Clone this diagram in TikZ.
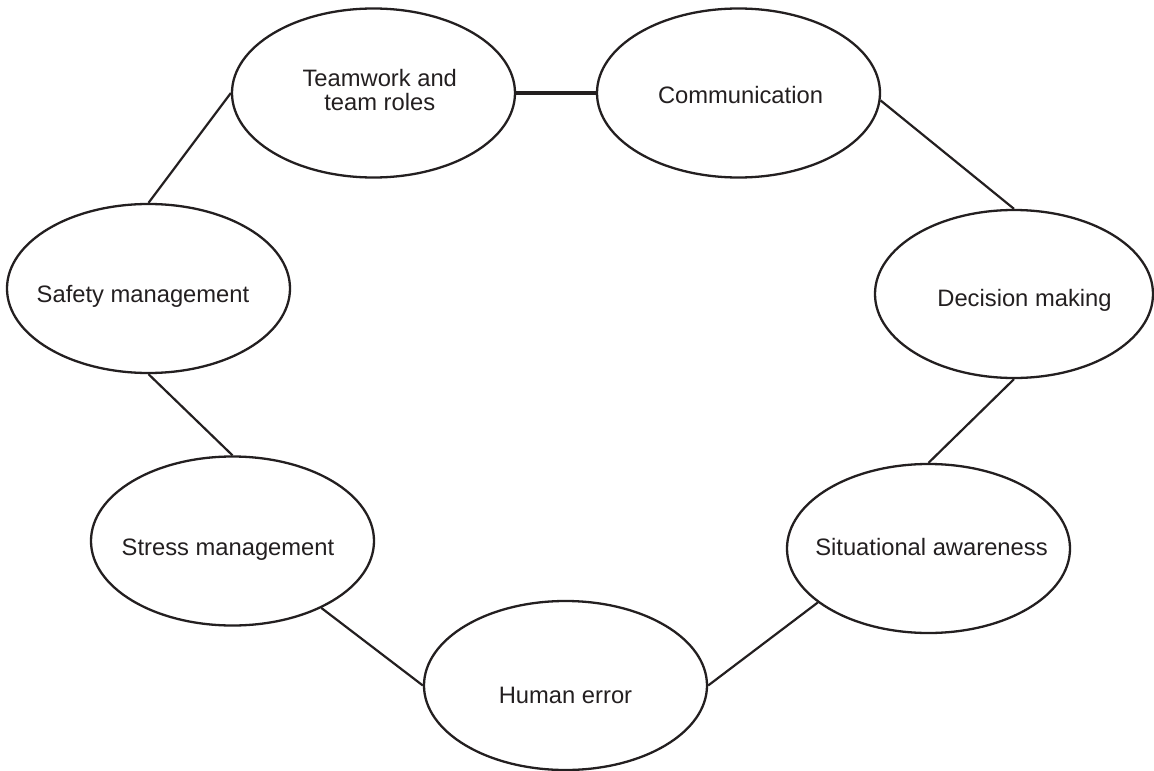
\documentclass[tikz,border=0pt]{standalone}
\usepackage{fontspec}
\setmainfont{Liberation Sans}
\usetikzlibrary{shapes.geometric}
\definecolor{ink}{HTML}{231F20}
\begin{document}
\begin{tikzpicture}[x=1bp,y=-1bp,
  topic/.style={ellipse,draw=ink,line width=2.3bp,minimum width=283bp,minimum height=169bp,inner sep=0pt},
  wide/.style={topic,minimum width=278bp,minimum height=168bp},
  caption/.style={text=ink,inner sep=0pt,font=\fontsize{23.75bp}{24bp}\selectfont},
  link/.style={draw=ink,line width=2.2bp},
  boldlink/.style={draw=ink,line width=4bp}]
\path[use as bounding box] (0,0) rectangle (1154,771);

% the seven topics, round the ring
\node[topic] (team)   at (373.5,93)    {};
\node[topic] (comm)   at (738.5,93)    {};
\node[wide]  (dec)    at (1014,294)    {};
\node[topic] (sit)    at (928.5,548.5) {};
\node[topic] (hum)    at (565.5,685.5) {};
\node[topic] (stress) at (232.5,541)   {};
\node[topic] (safety) at (148.5,288.5) {};

% their labels
\node[caption,align=center,anchor=center] (team-t) at (379.75,90.4) {Teamwork and\\team roles};
\node[caption,anchor=base] (comm-t)   at (740.5,104) {Communication};
\node[caption,anchor=base] (dec-t)    at (1024.5,306) {Decision making};
\node[caption,anchor=base] (sit-t)    at (931.5,555) {Situational awareness};
\node[caption,anchor=base] (hum-t)    at (565.5,703) {Human error};
\node[caption,anchor=base] (stress-t) at (228,555) {Stress management};
\node[caption,anchor=base] (safety-t) at (143,302.7) {Safety management};

% links between neighbours
\draw[boldlink] (team.east) -- (comm.west);
\draw[link] (comm.-3) -- (dec.north);
\draw[link] (dec.south) -- (sit.north);
\draw[link] (sit.206) -- (hum.east);
\draw[link] (hum.west) -- (stress.-37);
\draw[link] (stress.north) -- (safety.south);
\draw[link] (safety.north) -- (team.west);
\end{tikzpicture}
\end{document}
